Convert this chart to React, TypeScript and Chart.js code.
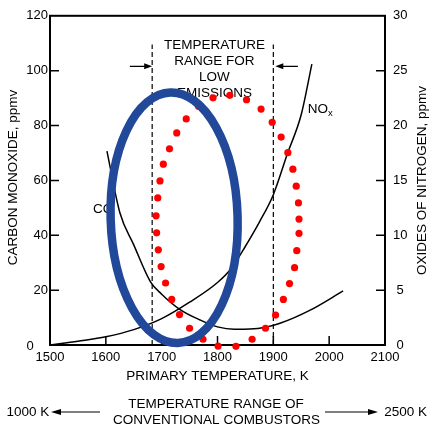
import React, { useEffect, useRef } from "react";
import { Chart, registerables } from "chart.js";

Chart.register(...registerables);

// ---- data ----
const coTemps = [1602, 1625, 1650, 1680, 1700, 1733, 1769, 1800, 1830, 1858, 1888, 1912, 1966, 2025];
const coValues = [70.7, 48.3, 36.5, 23, 18.5, 12.9, 9.1, 6.6, 5.7, 5.8, 6.6, 7.9, 12.7, 19.7];

const noxTemps = [1500, 1550, 1600, 1650, 1700, 1750, 1800, 1825, 1850, 1875, 1900, 1925, 1950, 1969];
const noxValues = [0, 0.35, 0.75, 1.4, 2.4, 3.9, 5.7, 7.0, 9.0, 11.2, 13.7, 17.4, 21.0, 25.6];

const dotTemps = [1792, 1822, 1852, 1878, 1898, 1914, 1926, 1935, 1941, 1945, 1946, 1946, 1942, 1938, 1929, 1918, 1904, 1886, 1862, 1833, 1801, 1774, 1750, 1732, 1718, 1707, 1699, 1694, 1691, 1690, 1693, 1697, 1703, 1714, 1727, 1744, 1766];
const dotValues = [90.1, 91.0, 89.4, 86.0, 81.2, 75.8, 70.1, 64.1, 57.9, 51.8, 45.9, 40.7, 34.4, 28.2, 22.4, 16.6, 10.9, 6.1, 2.1, -0.5, -0.4, 2.1, 6.1, 11.1, 16.6, 22.6, 28.6, 34.7, 40.9, 47.1, 53.6, 59.8, 65.9, 71.5, 77.3, 82.4, 87.0];

const lowEmissionBounds = [1683, 1900];
const boundTop = 109.5;

const xTicks = { min: 1500, max: 2100, step: 100 };
const coTicks = { min: 0, max: 120, step: 20 };
const noxTicks = { min: 0, max: 30, step: 5 };

const rangeLabelLines = ["TEMPERATURE", "RANGE FOR", "LOW", "EMISSIONS"];
const rangeLabelValues = [109.3, 103.5, 97.7, 91.9];
const rangeLabelTemp = 1794.6;
const arrowValue = 101.6;
const arrowStarts = [1643, 1944];

const ellipseCenter = [1722.3, 46.4];
const ellipseRadii = [113.7, 45.7];

const FONT = "'Liberation Sans', Arial, Helvetica, sans-serif";

function arrowHead(ctx: CanvasRenderingContext2D, tipX: number, tipY: number, dir: number, len: number, half: number) {
  ctx.beginPath();
  ctx.moveTo(tipX, tipY);
  ctx.lineTo(tipX - dir * len, tipY - half);
  ctx.lineTo(tipX - dir * len, tipY + half);
  ctx.closePath();
  ctx.fill();
}

const overlay = {
  id: "overlay",
  beforeDatasetsDraw(chart: any) {
    const { ctx, chartArea: a, scales } = chart;
    const x = scales.x, y = scales.y, y2 = scales.y2;
    ctx.save();
    ctx.strokeStyle = "#000";
    ctx.fillStyle = "#000";
    // frame
    ctx.lineWidth = 2;
    ctx.strokeRect(a.left, a.top, a.right - a.left, a.bottom - a.top);
    // inward ticks
    ctx.lineWidth = 1.5;
    ctx.beginPath();
    x.ticks.forEach((t: any) => {
      if (t.value > x.min && t.value < x.max) {
        const p = x.getPixelForValue(t.value);
        ctx.moveTo(p, a.bottom);
        ctx.lineTo(p, a.bottom - 9);
      }
    });
    y.ticks.forEach((t: any) => {
      if (t.value > y.min && t.value < y.max) {
        const p = y.getPixelForValue(t.value);
        ctx.moveTo(a.left, p);
        ctx.lineTo(a.left + 9, p);
      }
    });
    y2.ticks.forEach((t: any) => {
      if (t.value > y2.min && t.value < y2.max) {
        const p = y2.getPixelForValue(t.value);
        ctx.moveTo(a.right, p);
        ctx.lineTo(a.right - 9, p);
      }
    });
    ctx.stroke();

    // zero label at lower-left corner
    ctx.font = `13px ${FONT}`;
    ctx.textAlign = "center";
    ctx.textBaseline = "middle";
    ctx.fillText("0", a.left - 20, a.bottom + 1);

    // axis titles
    ctx.font = `13.5px ${FONT}`;
    ctx.save();
    ctx.translate(13.5, (a.top + a.bottom) / 2 - 3);
    ctx.rotate(-Math.PI / 2);
    ctx.fillText("CARBON MONOXIDE, ppmv", 0, 0);
    ctx.restore();
    ctx.save();
    ctx.translate(422, (a.top + a.bottom) / 2);
    ctx.rotate(-Math.PI / 2);
    ctx.fillText("OXIDES OF NITROGEN, ppmv", 0, 0);
    ctx.restore();
    ctx.fillText("PRIMARY TEMPERATURE, K", (a.left + a.right) / 2, 376);

    // bottom annotation
    ctx.fillText("TEMPERATURE RANGE OF", 216, 404.5);
    ctx.fillText("CONVENTIONAL COMBUSTORS", 216.5, 420);
    ctx.textAlign = "left";
    ctx.fillText("1000 K", 6.5, 412);
    ctx.textAlign = "right";
    ctx.fillText("2500 K", 427, 412);
    ctx.lineWidth = 1.2;
    ctx.beginPath();
    ctx.moveTo(100, 412);
    ctx.lineTo(58, 412);
    ctx.moveTo(325, 412);
    ctx.lineTo(372, 412);
    ctx.stroke();
    arrowHead(ctx, 51, 412, -1, 10, 3);
    arrowHead(ctx, 378, 412, 1, 10, 3);

    // low-emission range label
    ctx.textAlign = "center";
    rangeLabelLines.forEach((s, i) => {
      ctx.fillText(s, x.getPixelForValue(rangeLabelTemp), y.getPixelForValue(rangeLabelValues[i]));
    });
    // arrows toward dashed bounds
    const ay = y.getPixelForValue(arrowValue);
    const l0 = x.getPixelForValue(arrowStarts[0]);
    const l1 = x.getPixelForValue(lowEmissionBounds[0]);
    const r0 = x.getPixelForValue(arrowStarts[1]);
    const r1 = x.getPixelForValue(lowEmissionBounds[1]);
    ctx.beginPath();
    ctx.moveTo(l0, ay);
    ctx.lineTo(l1 - 6, ay);
    ctx.moveTo(r0, ay);
    ctx.lineTo(r1 + 8, ay);
    ctx.stroke();
    arrowHead(ctx, l1, ay, 1, 8, 3);
    arrowHead(ctx, r1 + 2, ay, -1, 8, 3);

    // curve labels
    ctx.textAlign = "left";
    ctx.fillText("CO", x.getPixelForValue(1577), y.getPixelForValue(49.3));
    const nx = x.getPixelForValue(1961.6);
    const ny = y.getPixelForValue(85.8);
    ctx.fillText("NO", nx, ny);
    const w = ctx.measureText("NO").width;
    ctx.font = `9.5px ${FONT}`;
    ctx.fillText("x", nx + w, ny + 4);
    ctx.restore();
  },
  afterDatasetsDraw(chart: any) {
    const { ctx, scales } = chart;
    const x = scales.x, y = scales.y;
    const cx = x.getPixelForValue(ellipseCenter[0]);
    const cy = y.getPixelForValue(ellipseCenter[1]);
    const rx = x.getPixelForValue(ellipseCenter[0] + ellipseRadii[0]) - cx;
    const ry = cy - y.getPixelForValue(ellipseCenter[1] + ellipseRadii[1]);
    ctx.save();
    ctx.beginPath();
    ctx.ellipse(cx, cy, rx, ry, -0.03, 0, Math.PI * 2);
    ctx.lineWidth = 8.5;
    ctx.strokeStyle = "#22489a";
    ctx.stroke();
    ctx.restore();
  },
};

export default function App() {
  const ref = useRef<HTMLCanvasElement | null>(null);
  useEffect(() => {
    if (!ref.current) return;
    const tickFont = { family: FONT, size: 13 };
    const noGrid = { display: false, drawTicks: false, tickLength: 0 };
    const chart = new Chart(ref.current, {
      type: "scatter",
      data: {
        datasets: [
          {
            label: "operating points",
            data: dotTemps.map((t, i) => ({ x: t, y: dotValues[i] })),
            yAxisID: "y",
            showLine: false,
            pointRadius: 3.6,
            pointBackgroundColor: "#ff0000",
            pointBorderWidth: 0,
            borderColor: "#ff0000",
            clip: false as any,
          },
          {
            label: "CO",
            data: coTemps.map((t, i) => ({ x: t, y: coValues[i] })),
            yAxisID: "y",
            showLine: true,
            borderColor: "#000",
            borderWidth: 1.5,
            pointRadius: 0,
            cubicInterpolationMode: "monotone",
          },
          {
            label: "NOx",
            data: noxTemps.map((t, i) => ({ x: t, y: noxValues[i] })),
            yAxisID: "y2",
            showLine: true,
            borderColor: "#000",
            borderWidth: 1.5,
            pointRadius: 0,
            cubicInterpolationMode: "monotone",
          },
          ...lowEmissionBounds.map((b) => ({
            label: "bound " + b,
            data: [
              { x: b, y: 0 },
              { x: b, y: boundTop },
            ],
            yAxisID: "y",
            showLine: true,
            borderColor: "#000",
            borderWidth: 1.2,
            borderDash: [5, 3],
            pointRadius: 0,
          })),
        ],
      } as any,
      options: {
        animation: false,
        responsive: false,
        maintainAspectRatio: false,
        devicePixelRatio: 1,
        layout: { padding: { top: 14, left: 0, right: 0, bottom: 0 } },
        plugins: { legend: { display: false }, tooltip: { enabled: false } },
        scales: {
          x: {
            type: "linear",
            min: xTicks.min,
            max: xTicks.max,
            grid: noGrid,
            border: { display: false },
            ticks: { stepSize: xTicks.step, padding: 5, color: "#000", font: tickFont, callback: (v: any) => String(v) },
            afterFit: (s: any) => {
              s.height = 90;
            },
          },
          y: {
            position: "left",
            min: coTicks.min,
            max: coTicks.max,
            grid: noGrid,
            border: { display: false },
            ticks: { stepSize: coTicks.step, padding: 2, color: "#000", font: tickFont, callback: (v: any) => (v === 0 ? "" : String(v)) },
            afterFit: (s: any) => {
              s.width = 50;
            },
          },
          y2: {
            position: "right",
            min: noxTicks.min,
            max: noxTicks.max,
            grid: noGrid,
            border: { display: false },
            ticks: { stepSize: noxTicks.step, padding: 8, color: "#000", font: tickFont, crossAlign: "center", callback: (v: any) => String(v) },
            afterFit: (s: any) => {
              s.width = 44;
            },
          },
        },
      } as any,
      plugins: [overlay],
    });
    return () => chart.destroy();
  }, []);
  return (
    <div style={{ position: "fixed", left: 0, top: 0, width: 429, height: 435, background: "#fff" }}>
      <canvas ref={ref} width={429} height={435} style={{ display: "block" }} />
    </div>
  );
}
